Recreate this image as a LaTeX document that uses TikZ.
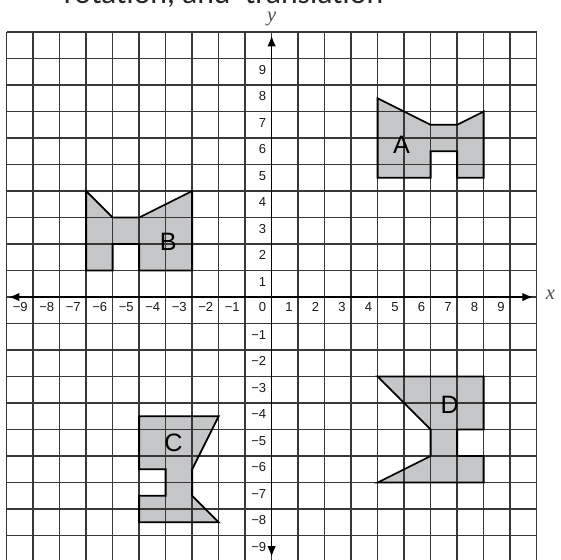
\documentclass[tikz,border=0pt]{standalone}
\usepackage{fontspec}
\setmainfont{Liberation Sans}
\newfontfamily\titlefont{Carlito}
\newfontfamily\axisfont{Liberation Serif}
\usetikzlibrary{arrows.meta}

\definecolor{shapegray}{HTML}{C4C6C8}
\definecolor{gridgray}{HTML}{383838}

% outlines of the four figures
\newcommand{\figA}{(4,7.5) -- (6,6.5) -- (7,6.5) -- (8,7) -- (8,4.5) -- (7,4.5) -- (7,5.5) -- (6,5.5) -- (6,4.5) -- (4,4.5) -- cycle}
\newcommand{\figB}{(-7,4) -- (-6,3) -- (-5,3) -- (-3,4) -- (-3,1) -- (-5,1) -- (-5,2) -- (-6,2) -- (-6,1) -- (-7,1) -- cycle}
\newcommand{\figC}{(-5,-4.5) -- (-2,-4.5) -- (-3,-6.5) -- (-3,-7.5) -- (-2,-8.5) -- (-5,-8.5) -- (-5,-7.5) -- (-4,-7.5) -- (-4,-6.5) -- (-5,-6.5) -- cycle}
\newcommand{\figD}{(4,-3) -- (8,-3) -- (8,-5) -- (7,-5) -- (7,-6) -- (8,-6) -- (8,-7) -- (4,-7) -- (6,-6) -- (6,-5) -- cycle}

\tikzset{
  gridline/.style={draw=gridgray, line width=1.4pt},
  figline/.style={draw=black, line width=1.9pt, line join=miter},
  axisline/.style={draw=black, line width=1.4pt, {Latex[length=4mm,width=3.2mm]}-{Latex[length=4mm,width=3.2mm]}},
  ticklabel/.style={font=\fontsize{14}{14}\selectfont, text=black!90, anchor=east, inner sep=0pt},
  figlabel/.style={font=\fontsize{27}{27}\selectfont, text=black, inner sep=0pt},
  axisname/.style={font=\axisfont\itshape\fontsize{22}{22}\selectfont, text=black!70, inner sep=0pt}
}

\begin{document}
\begin{tikzpicture}
            % Frame (the scan is cut at the top and bottom)
            \clip (-10.25,-9.89) rectangle (10.92,11.21);
            
            % Title line, mostly cut off
            \node[anchor=base west, inner sep=0pt, text=black!85, font=\titlefont\fontsize{34}{34}\selectfont] (title) at (-7.85,11.06) {rotation, and\ \ translation};
            
            % Shaded figures
            \fill[shapegray] \figA;
            \fill[shapegray] \figB;
            \fill[shapegray] \figC;
            \fill[shapegray] \figD;
            
            % Grid
            \draw[gridline] (-10,-10) grid (10,10);
            
            % Outlines
            \draw[figline] \figA;
            \draw[figline] \figB;
            \draw[figline] \figC;
            \draw[figline] \figD;
            
            % Axes
            \coordinate (xmin) at (-9.92,0);
            \coordinate (xmax) at (9.86,0);
            \coordinate (ymin) at (0,-9.8);
            \coordinate (ymax) at (0,9.86);
            \draw[axisline] (xmin) -- (xmax);
            \draw[axisline] (ymin) -- (ymax);
            \node[axisname] (xname) at (10.52,0.08) {x};
            \node[axisname] (yname) at (0,10.5) {y};
            
            % Tick labels
            \foreach \n in {-9,...,9}
              \node[ticklabel] (xt\n) at (\n-0.2,-0.38) {\ifnum\n<0 −\the\numexpr-\n\relax\else\n\fi};
            \foreach \n in {-9,...,-1,1,2,...,9}
              \node[ticklabel] (yt\n) at (-0.2,\n-0.42) {\ifnum\n<0 −\the\numexpr-\n\relax\else\n\fi};
            
            % Figure letters
            \node[figlabel] (labA) at (4.9,5.75) {A};
            \node[figlabel] (labB) at (-3.9,2.1) {B};
            \node[figlabel] (labC) at (-3.7,-5.5) {C};
            \node[figlabel] (labD) at (6.72,-4.08) {D};
\end{tikzpicture}
\end{document}
